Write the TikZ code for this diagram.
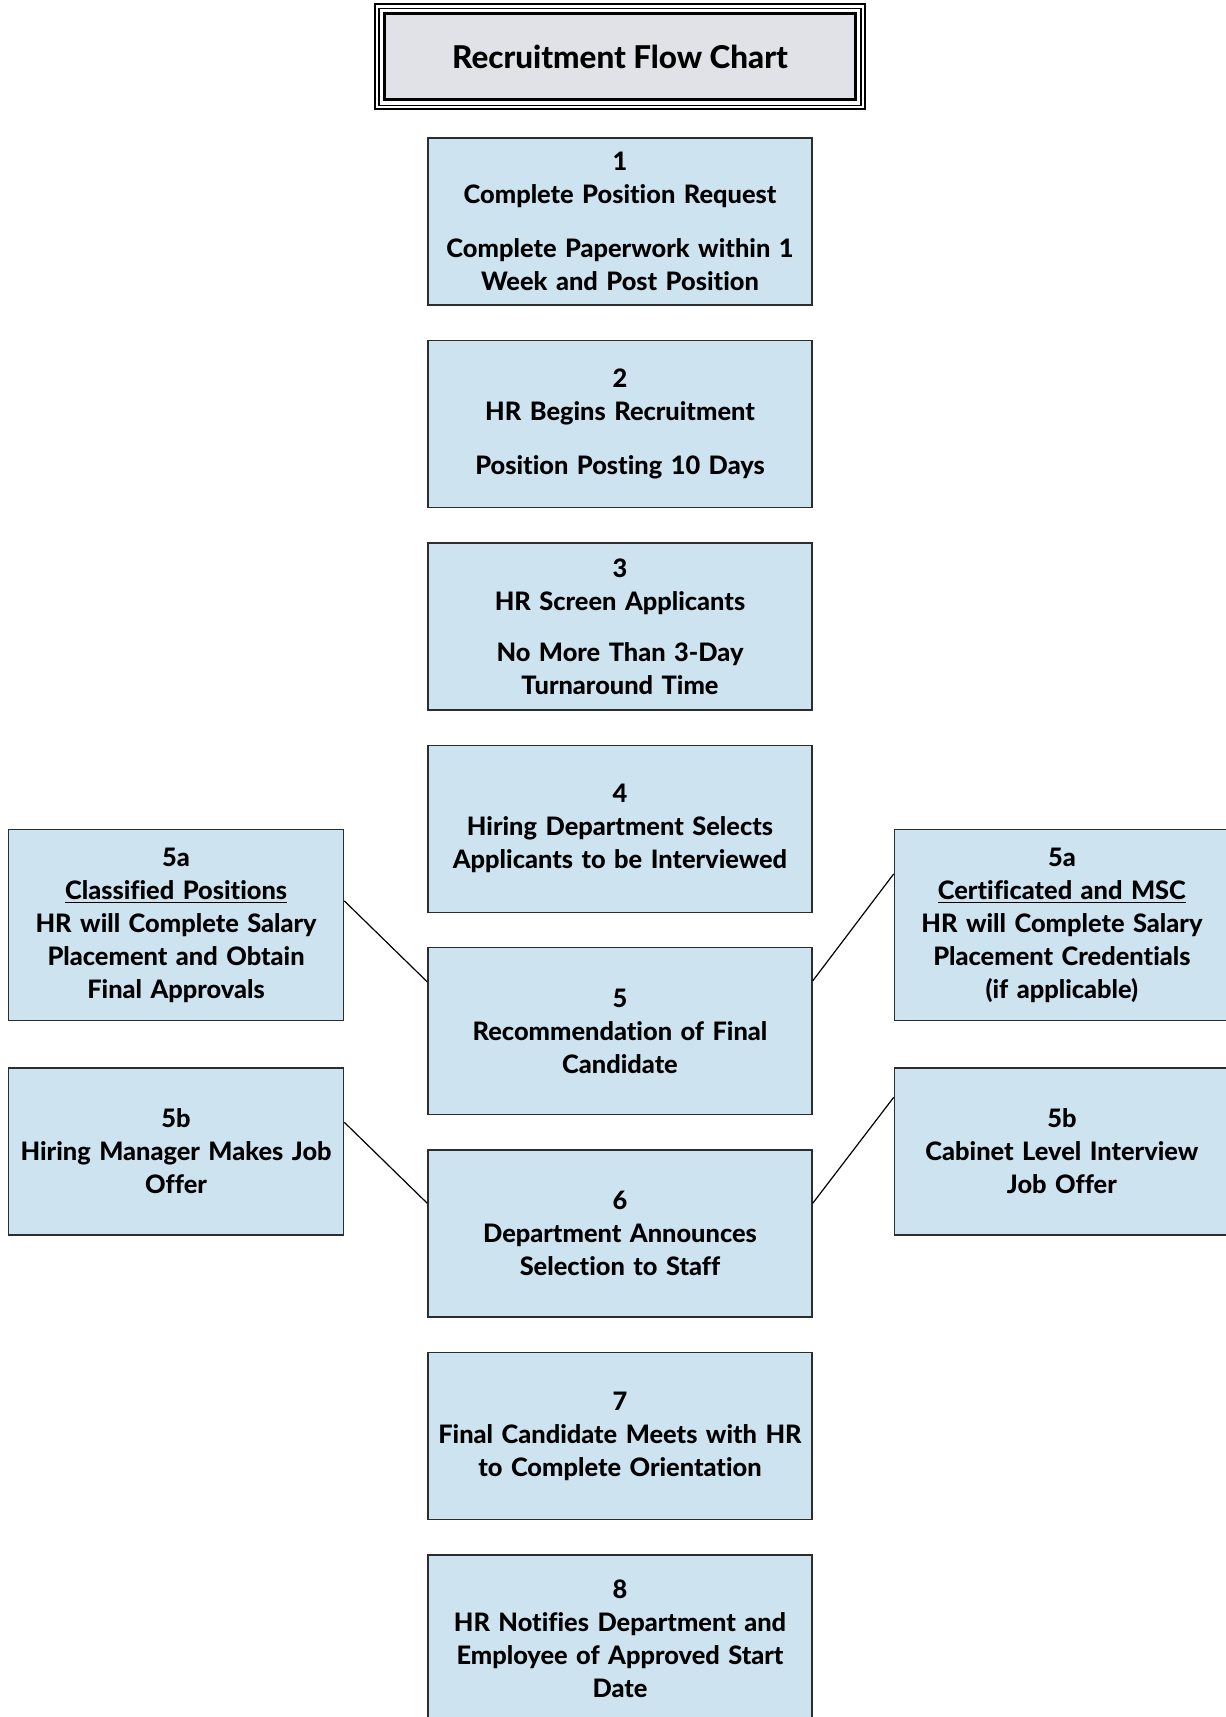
\documentclass[tikz,border=0pt]{standalone}
\usepackage{fontspec}
\setmainfont{Lato}[Ligatures=NoCommon, BoldFont={Lato Heavy}]
\usepackage{xcolor}
\usetikzlibrary{positioning}

\definecolor{boxblue}{RGB}{205,227,240}
\definecolor{titlegray}{RGB}{225,226,232}
\definecolor{edgegray}{RGB}{45,45,45}

\begin{document}
\begin{tikzpicture}[
    x=0.5pt, y=-0.5pt,
    font=\fontsize{12.7}{16.5}\selectfont\bfseries,
    every node/.style={align=center},
    box/.style={draw=edgegray, line width=0.7pt, fill=boxblue, minimum width=192pt,
                minimum height=83.5pt, text width=186pt, inner sep=2pt},
    sidebox/.style={box, minimum width=167.5pt, text width=162pt},
    titlebox/.style={draw=black, line width=1.5pt, fill=titlegray, minimum width=235.5pt,
                     minimum height=43pt, font=\fontsize{15.7}{18}\selectfont\bfseries},
    link/.style={draw=black, line width=0.6pt},
]
\useasboundingbox (0,0) rectangle (1225,1717);

% Title with triple frame
\node[titlebox] (title) at (620,57) {Recruitment Flow Chart};
\draw[line width=0.6pt] ([shift={(-2pt,2pt)}]title.north west) rectangle ([shift={(2pt,-2pt)}]title.south east);
\draw[line width=1pt] ([shift={(-4pt,4pt)}]title.north west) rectangle ([shift={(4pt,-4pt)}]title.south east);

% Stage boxes
\node[box, below=17.9pt of title] (s1) {1\\Complete Position Request\\[10.5pt]Complete Paperwork within 1\\Week and Post Position};
\node[box, below=17pt of s1] (s2) {2\\HR Begins Recruitment\\[10.5pt]Position Posting 10 Days};
\node[box, below=17pt of s2] (s3) {3\\HR Screen Applicants\\[9pt]No More Than 3-Day\\Turnaround Time};
\node[box, below=17pt of s3] (s4) {4\\Hiring Department Selects\\Applicants to be Interviewed};
\node[box, below=17pt of s4] (s5) {5\\Recommendation of Final\\Candidate};
\node[box, below=17pt of s5] (s6) {6\\Department Announces\\Selection to Staff};
\node[box, below=17pt of s6] (s7) {7\\Final Candidate Meets with HR\\to Complete Orientation};
\node[box, below=17pt of s7] (s8) {8\\HR Notifies Department and\\Employee of Approved Start\\Date};

% Side boxes
\node[sidebox, minimum height=95.5pt, anchor=north east] (c5a) at ([xshift=-41.5pt, yshift=59pt]s5.north west)
    {5a\\\underline{Classified Positions}\\HR will Complete Salary\\Placement and Obtain\\Final Approvals};
\node[sidebox, below=23pt of c5a] (c5b) {5b\\Hiring Manager Makes Job\\Offer};
\node[sidebox, minimum height=95.5pt, anchor=north west] (d5a) at ([xshift=40.5pt, yshift=59pt]s5.north east)
    {5a\\\underline{Certificated and MSC}\\HR will Complete Salary\\Placement Credentials\\(if applicable)};
\node[sidebox, below=23pt of d5a] (d5b) {5b\\Cabinet Level Interview\\Job Offer};

% Connectors
\draw[link] ([yshift=-36pt]c5a.north east) -- ([yshift=-17.5pt]s5.north west);
\draw[link] ([yshift=-27.5pt]c5b.north east) -- ([yshift=-27pt]s6.north west);
\draw[link] ([yshift=-17pt]s5.north east) -- ([yshift=-22.5pt]d5a.north west);
\draw[link] ([yshift=-27pt]s6.north east) -- ([yshift=-15pt]d5b.north west);

\end{tikzpicture}
\end{document}
